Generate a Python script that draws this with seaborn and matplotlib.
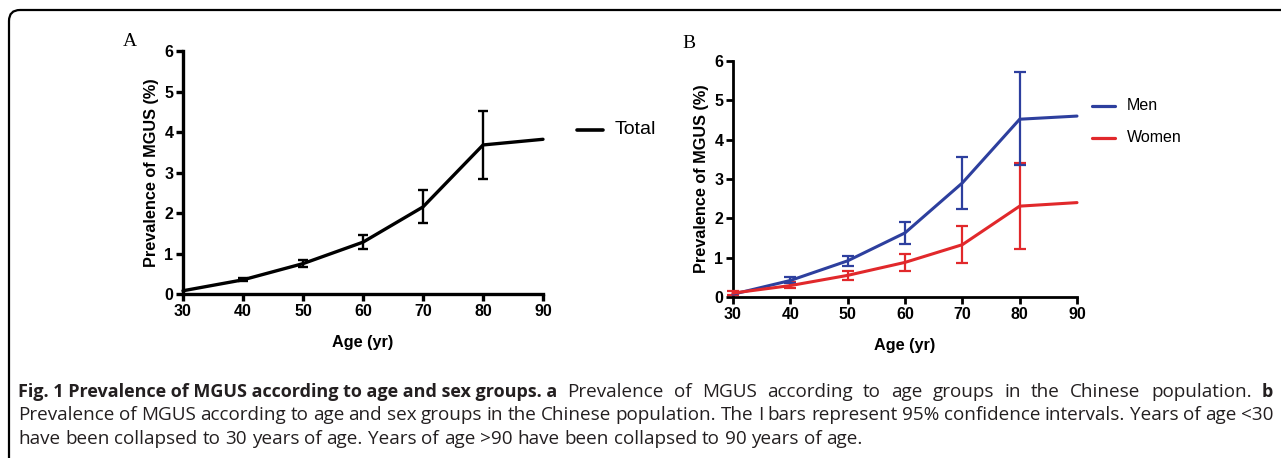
import numpy as np
import pandas as pd
import matplotlib
matplotlib.use("Agg")
import matplotlib.pyplot as plt
import seaborn as sns
from matplotlib.patches import FancyBboxPatch
from matplotlib.transforms import IdentityTransform

# -----------------------------------
# DATA
# -----------------------------------

ages = [30, 40, 50, 60, 70, 80, 90]

total_prev = [0.08, 0.35, 0.75, 1.28, 2.15, 3.68, 3.82]
total_low = [np.nan, 0.31, 0.66, 1.12, 1.75, 2.83, np.nan]
total_high = [np.nan, 0.40, 0.85, 1.46, 2.57, 4.53, np.nan]

men_prev = [0.07, 0.42, 0.92, 1.63, 2.90, 4.52, 4.60]
men_low = [np.nan, 0.35, 0.80, 1.36, 2.25, 3.35, np.nan]
men_high = [np.nan, 0.50, 1.05, 1.90, 3.57, 5.73, np.nan]

women_prev = [0.10, 0.29, 0.55, 0.88, 1.33, 2.31, 2.40]
women_low = [0.05, 0.22, 0.44, 0.67, 0.87, 1.22, np.nan]
women_high = [0.14, 0.37, 0.67, 1.09, 1.80, 3.40, np.nan]

COLORS = {"Total": "#000000", "Men": "#2d3f9e", "Women": "#e1282b"}

# -----------------------------------
# FIGURE SETUP
# -----------------------------------

sns.set_style("ticks")
plt.rcParams["font.family"] = ["Liberation Sans", "DejaVu Sans"]
plt.rcParams.update({
    "text.color": "black",
    "axes.labelcolor": "black",
    "axes.edgecolor": "black",
    "xtick.color": "black",
    "ytick.color": "black",
})

W, H = 1281, 458
fig = plt.figure(figsize=(W / 100, H / 100), dpi=100)

# rounded frame around the whole panel
frame = FancyBboxPatch((9, -30), 1320, H - 10 + 30,
                       boxstyle="round,pad=0,rounding_size=11",
                       transform=IdentityTransform(), fill=False,
                       edgecolor="black", linewidth=1.6)
fig.patches.append(frame)


def make_axes(x0, x1, y_top, y_bot):
    return fig.add_axes([x0 / W, 1 - y_bot / H, (x1 - x0) / W, (y_bot - y_top) / H])


def style_axes(ax, lw):
    ax.set_xlim(30, 90)
    ax.set_ylim(0, 6)
    ax.set_xticks(range(30, 91, 10))
    ax.set_yticks(range(0, 7))
    sns.despine(ax=ax)
    for s in ["left", "bottom"]:
        ax.spines[s].set_linewidth(lw)
    ax.tick_params(width=lw, length=5, labelsize=11.5, pad=2)
    for lab in ax.get_xticklabels() + ax.get_yticklabels():
        lab.set_fontweight("bold")
    ax.set_xlabel("Age (yr)", fontsize=11.7, fontweight="bold", labelpad=12)
    ax.set_ylabel("Prevalence of MGUS (%)", fontsize=11.7, fontweight="bold", labelpad=4)


def draw_group(ax, df, name, low, high, lw, cap):
    sub = df[df["group"] == name]
    prev = sub["prev"].to_numpy()
    lo = np.array(low)
    hi = np.array(high)
    ax.errorbar(sub["age"], prev, yerr=[prev - lo, hi - prev], fmt="none",
                ecolor=COLORS[name], elinewidth=lw, capsize=cap,
                capthick=lw, clip_on=False, zorder=3)


# -----------------------------------
# PANEL A
# -----------------------------------

df_a = pd.DataFrame({"age": ages, "prev": total_prev, "group": "Total"})

ax_a = make_axes(183, 543, 51, 294)
sns.lineplot(data=df_a, x="age", y="prev", hue="group", palette=COLORS,
             linewidth=2.4, ax=ax_a, legend=False, clip_on=False, zorder=4)
draw_group(ax_a, df_a, "Total", total_low, total_high, 1.7, 3.4)
style_axes(ax_a, 2.4)

# -----------------------------------
# PANEL B
# -----------------------------------

df_b = pd.concat([
    pd.DataFrame({"age": ages, "prev": men_prev, "group": "Men"}),
    pd.DataFrame({"age": ages, "prev": women_prev, "group": "Women"}),
])

ax_b = make_axes(733, 1077, 61, 297)
sns.lineplot(data=df_b, x="age", y="prev", hue="group", palette=COLORS,
             linewidth=2.2, ax=ax_b, legend=False, clip_on=False, zorder=4)
draw_group(ax_b, df_b, "Women", women_low, women_high, 1.6, 4)
draw_group(ax_b, df_b, "Men", men_low, men_high, 1.6, 4)
style_axes(ax_b, 2.0)

# -----------------------------------
# LEGENDS AND PANEL LETTERS
# -----------------------------------


def legend_entry(x0, x1, y, label, color, lw, size):
    fig.add_artist(plt.Line2D([x0 / W, x1 / W], [1 - y / H, 1 - y / H],
                              color=color, linewidth=lw))
    fig.text((x1 + 12) / W, 1 - y / H, label, fontsize=size, va="center")


legend_entry(577, 603, 130, "Total", COLORS["Total"], 2.6, 14)
legend_entry(1092, 1115, 106, "Men", COLORS["Men"], 2.3, 11.5)
legend_entry(1092, 1115, 138, "Women", COLORS["Women"], 2.3, 11.5)

fig.text(123 / W, 1 - 41 / H, "A", fontsize=14, family="Liberation Serif", va="center")
fig.text(682 / W, 1 - 44 / H, "B", fontsize=14, family="Liberation Serif", va="center")

# -----------------------------------
# CAPTION (justified, like the journal layout)
# -----------------------------------

cap_font = ["Open Sans", "DejaVu Sans"]
caption = [
    [("Fig. 1 Prevalence of MGUS according to age and sex groups. a", "bold"),
     ("Prevalence of MGUS according to age groups in the Chinese population.", "normal"),
     ("b", "bold")],
    [("Prevalence of MGUS according to age and sex groups in the Chinese population. "
      "The I bars represent 95% confidence intervals. Years of age <30", "normal")],
    [("have been collapsed to 30 years of age. Years of age >90 have been collapsed "
      "to 90 years of age.", "normal")],
]
line_y = [392, 415, 439]
justify = [True, True, False]
cap_left, cap_right = 18, 1273

fig.canvas.draw()
renderer = fig.canvas.get_renderer()


def text_width(s, size, weight):
    t = fig.text(0, 0, s, fontsize=size, family=cap_font, fontweight=weight)
    w = t.get_window_extent(renderer=renderer).width
    t.remove()
    return w


# fit sizes: last (unjustified) line ends at x=858, bold lead ends at x=560
reg_size = 12 * (858 - cap_left) / text_width(caption[2][0][0], 12, "normal")
bold_size = 12 * (560 - cap_left) / text_width(caption[0][0][0], 12, "bold")
space_w = text_width("a b", reg_size, "normal") - text_width("ab", reg_size, "normal")

for parts, y, just in zip(caption, line_y, justify):
    # bold runs stay as one piece, regular runs are split into words
    chunks = []
    for text, weight in parts:
        size = bold_size if weight == "bold" else reg_size
        pieces = [text] if weight == "bold" else text.split(" ")
        for p in pieces:
            chunks.append((p, weight, size, text_width(p, size, weight)))
    if just:
        gap = (cap_right - cap_left - sum(c[3] for c in chunks)) / (len(chunks) - 1)
    else:
        gap = space_w
    x = cap_left
    for p, weight, size, width in chunks:
        fig.text(x / W, 1 - y / H, p, fontsize=size, family=cap_font,
                 fontweight=weight, va="center", color="#231f20")
        x += width + gap

fig.savefig("out.png", dpi=100)
